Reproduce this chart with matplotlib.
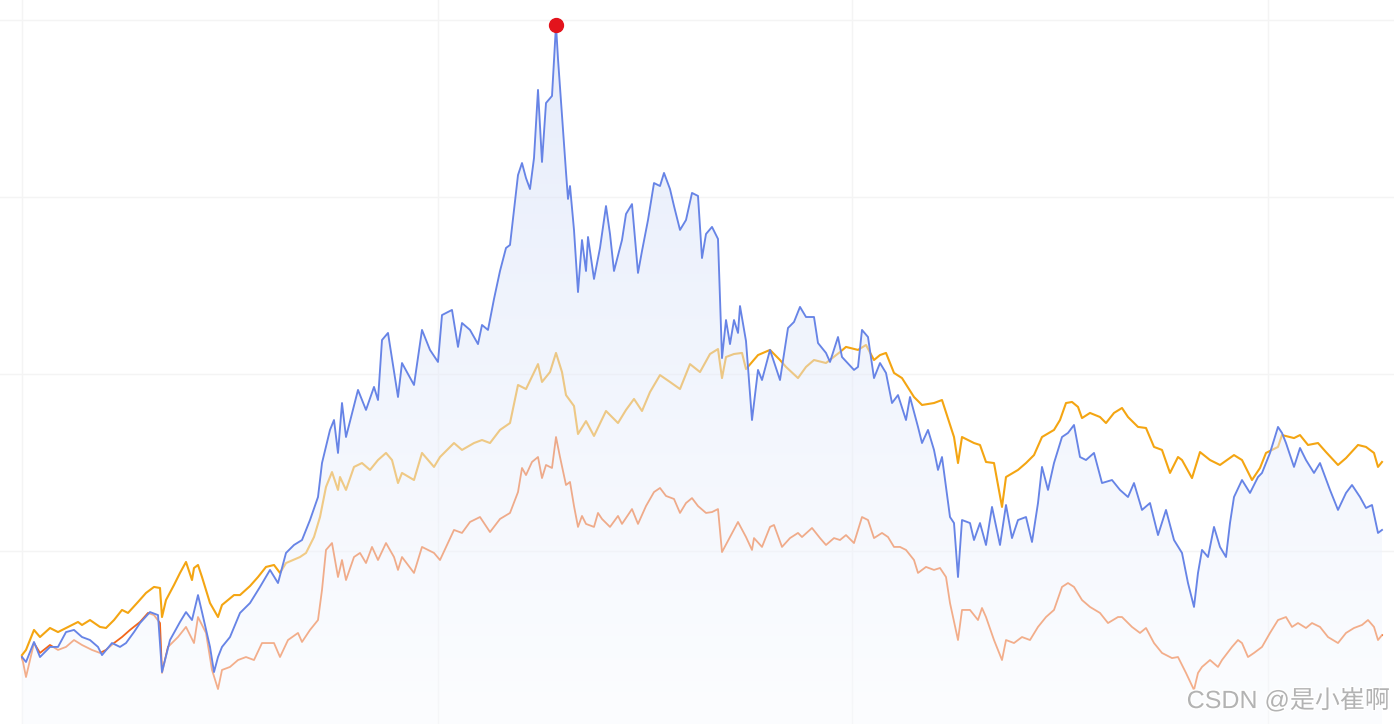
import numpy as np
import matplotlib
matplotlib.use("Agg")
import matplotlib.pyplot as plt
from matplotlib.patches import PathPatch
import matplotlib.patheffects as pe

# ---------------- data (trading-day index, value) ----------------
gold_days = [0, 2, 6, 9, 14, 18, 22, 28, 30, 34, 39, 42, 46, 50, 53, 58, 62, 66, 69, 70, 72, 76, 79, 82, 85, 86, 88, 90, 94, 98,
             100, 106, 109, 114, 118, 122, 126, 129, 132, 139, 142, 146, 149, 152, 155, 158, 159, 162, 166, 170, 174, 178, 182,
             185, 188, 190, 196, 200, 206, 209, 216, 220, 226, 230, 234, 239, 244, 248, 252, 258, 260, 264, 267, 270, 272, 276,
             278, 282, 286, 292, 298, 302, 306, 310, 314, 319, 324, 329, 334, 339, 344, 348, 350, 352, 356, 360, 362, 368, 374,
             379, 382, 388, 392, 396, 402, 409, 412, 418, 422, 426, 429, 432, 436, 440, 446, 450, 456, 460, 466, 468, 470, 476,
             479, 482, 486, 490, 492, 498, 502, 506, 510, 516, 519, 522, 525, 528, 530, 534, 539, 542, 546, 550, 553, 558, 562,
             566, 570, 574, 578, 580, 585, 589, 594, 599, 606, 610, 615, 619, 622, 628, 630, 636, 639, 643, 648, 652, 658, 662,
             668, 672, 676, 678, 680]
gold_vals = [41.2, 44.1, 55.4, 51.4, 56.5, 54.2, 56.5, 59.9, 58.2, 61.0, 57.1, 56.5, 61.0, 66.7, 65.0, 71.2, 76.3, 79.7, 79.1,
             62.7, 72.3, 80.8, 87.6, 93.8, 83.6, 90.4, 92.1, 85.3, 70.6, 62.7, 69.5, 75.1, 75.1, 80.2, 85.3, 91.0, 92.1, 87.6,
             93.2, 96.6, 98.9, 107.9, 119.2, 136.2, 144.6, 134.5, 141.8, 134.5, 147.5, 149.7, 145.8, 151.4, 155.4, 151.4, 138.4,
             144.1, 140.1, 155.4, 147.5, 153.1, 161.0, 157.1, 161.0, 162.7, 161.0, 168.4, 172.3, 193.8, 191.5, 205.6, 195.5,
             201.1, 211.9, 201.1, 188.1, 181.9, 166.1, 173.4, 165.0, 179.1, 172.3, 179.7, 185.9, 179.1, 189.8, 199.4, 195.5,
             191.5, 205.6, 201.1, 211.3, 214.1, 197.7, 209.6, 211.3, 211.9, 202.8, 210.7, 213.6, 207.9, 204.0, 197.7, 204.0,
             207.9, 206.2, 212.4, 215.3, 213.6, 216.4, 207.9, 210.7, 211.9, 200.6, 197.7, 187.0, 182.5, 183.6, 185.3, 164.4,
             149.7, 164.4, 161.0, 159.9, 150.3, 149.7, 124.9, 141.8, 145.8, 149.7, 154.2, 164.4, 168.4, 174.0, 183.6, 184.2,
             181.4, 175.1, 178.0, 175.7, 172.3, 178.0, 180.8, 175.7, 170.1, 169.5, 158.8, 157.1, 144.1, 153.1, 151.4, 141.2,
             155.9, 151.4, 148.6, 154.2, 151.4, 140.1, 146.9, 155.4, 158.8, 165.5, 163.8, 165.5, 159.9, 161.0, 155.9, 148.6,
             152.5, 159.9, 158.8, 155.4, 147.5, 150.3]

blue_days = [0, 2, 6, 9, 14, 18, 22, 26, 30, 34, 38, 40, 45, 49, 52, 56, 59, 64, 68, 70, 74, 79, 82, 85, 88, 90, 94, 96, 98,
             100, 104, 109, 114, 119, 124, 128, 132, 136, 140, 144, 148, 150, 154, 156, 158, 160, 162, 168, 172, 176, 178, 180,
             183, 188, 190, 196, 200, 204, 208, 210, 215, 218, 220, 224, 228, 230, 233, 236, 239, 242, 244, 248, 250, 252, 254,
             256, 258, 260, 262, 265, 267, 268, 270, 272, 273, 274, 276, 278, 280, 282, 283, 286, 289, 292, 294, 296, 300, 302,
             305, 308, 310, 313, 316, 319, 321, 324, 326, 329, 332, 335, 338, 340, 342, 345, 348, 350, 352, 354, 356, 358, 359,
             362, 365, 368, 370, 374, 379, 383, 386, 389, 392, 396, 398, 402, 404, 408, 410, 416, 418, 420, 423, 426, 429, 432,
             435, 438, 442, 444, 448, 450, 453, 456, 458, 460, 464, 466, 468, 470, 474, 476, 479, 482, 485, 489, 492, 495, 498,
             502, 505, 508, 510, 513, 516, 520, 523, 526, 529, 532, 536, 540, 545, 549, 553, 556, 560, 564, 568, 572, 576, 580,
             583, 586, 588, 590, 593, 596, 599, 602, 604, 606, 610, 614, 618, 620, 624, 628, 630, 632, 636, 639, 642, 646, 649,
             654, 658, 662, 665, 669, 672, 675, 678, 680]
blue_vals = [40.1, 37.3, 48.6, 40.1, 45.8, 45.8, 54.2, 55.4, 51.4, 49.7, 45.8, 41.2, 48.0, 45.8, 48.0, 54.2, 59.3, 65.5, 63.8,
             31.6, 49.7, 59.9, 65.5, 61.0, 75.1, 65.5, 45.8, 31.6, 40.1, 45.8, 51.4, 65.0, 70.6, 79.7, 89.3, 81.9, 98.9, 103.4,
             106.2, 117.5, 130.5, 149.7, 168.4, 174.0, 155.4, 183.6, 164.4, 191.0, 179.7, 192.7, 185.3, 219.2, 223.2, 187.0,
             206.2, 193.8, 224.9, 213.6, 206.8, 233.3, 236.2, 215.3, 228.8, 224.9, 216.9, 227.7, 224.9, 242.4, 258.2, 271.2,
             272.9, 312.4, 319.2, 310.7, 304.5, 322.0, 360.5, 319.8, 353.1, 357.1, 397.2, 378.0, 345.8, 314.1, 298.9, 306.2,
             281.4, 246.3, 275.7, 258.2, 277.4, 253.7, 271.2, 294.9, 279.1, 258.2, 275.7, 290.4, 296.0, 257.1, 269.5, 287.0,
             307.9, 306.2, 313.6, 304.5, 294.9, 281.4, 287.0, 302.3, 300.6, 265.5, 279.1, 283.1, 276.3, 209.0, 230.5, 216.9,
             230.5, 223.2, 238.4, 218.6, 174.0, 202.3, 196.6, 213.6, 196.6, 226.0, 229.4, 237.9, 232.2, 232.2, 217.5, 211.9,
             206.8, 220.9, 209.6, 202.3, 204.0, 224.9, 220.9, 197.7, 206.2, 200.6, 183.6, 188.1, 174.0, 187.0, 170.1, 161.0,
             168.4, 157.1, 145.8, 153.1, 119.2, 115.8, 85.3, 117.5, 115.8, 106.2, 115.8, 103.4, 124.9, 103.4, 126.0, 107.3,
             117.5, 119.2, 105.1, 127.1, 147.5, 134.5, 149.7, 164.4, 166.7, 171.2, 153.1, 151.4, 155.4, 138.4, 140.1, 134.5,
             130.5, 138.4, 123.2, 127.1, 109.0, 123.2, 106.2, 98.9, 81.9, 68.4, 87.6, 100.6, 96.6, 113.6, 102.3, 96.6, 115.8,
             130.5, 140.1, 132.8, 141.8, 144.1, 155.4, 170.1, 166.7, 161.0, 147.5, 158.2, 151.4, 144.1, 149.7, 134.5, 123.2,
             132.8, 137.3, 130.5, 124.3, 126.0, 110.2, 111.9]

salmon_days = [0, 2, 6, 9, 14, 18, 22, 26, 30, 35, 39, 42, 46, 50, 54, 59, 63, 66, 69, 70, 73, 78, 82, 86, 88, 92, 95, 98, 100,
               104, 108, 112, 116, 120, 126, 129, 133, 138, 140, 144, 148, 150, 152, 155, 158, 160, 162, 166, 169, 172, 175,
               178, 182, 186, 188, 190, 196, 200, 206, 209, 216, 220, 224, 229, 234, 239, 244, 248, 250, 252, 255, 258, 260,
               262, 265, 267, 269, 272, 274, 276, 278, 280, 282, 286, 288, 290, 294, 298, 300, 305, 308, 312, 316, 319, 322,
               326, 329, 332, 335, 338, 342, 345, 348, 350, 354, 358, 362, 365, 366, 370, 374, 376, 380, 384, 388, 390, 395,
               399, 402, 406, 409, 412, 416, 420, 423, 426, 430, 433, 436, 439, 442, 446, 448, 452, 456, 459, 462, 464, 468,
               470, 474, 478, 480, 482, 486, 490, 492, 496, 500, 504, 508, 512, 516, 520, 523, 526, 530, 534, 539, 543, 548,
               550, 555, 559, 562, 566, 570, 575, 578, 582, 586, 588, 590, 594, 598, 600, 605, 608, 610, 613, 616, 620, 624,
               628, 632, 635, 638, 642, 645, 649, 653, 658, 662, 666, 670, 673, 676, 678, 680]
salmon_vals = [40.1, 28.8, 48.0, 42.4, 46.9, 44.1, 45.8, 49.7, 46.9, 44.1, 42.4, 44.1, 48.0, 51.4, 55.4, 59.9, 65.0, 63.8,
               59.3, 31.1, 45.8, 51.4, 57.1, 48.0, 62.7, 53.7, 32.8, 22.0, 32.8, 34.5, 38.4, 40.1, 38.4, 48.0, 48.0, 40.1,
               49.7, 53.7, 48.6, 55.4, 61.0, 78.0, 100.6, 104.5, 85.3, 94.9, 83.6, 96.6, 98.9, 93.2, 102.3, 94.9, 104.5, 96.6,
               89.3, 96.6, 87.6, 102.3, 98.9, 94.9, 111.9, 110.2, 116.4, 119.2, 110.7, 118.1, 121.5, 133.3, 146.9, 142.9,
               150.3, 153.1, 141.2, 148.6, 146.9, 164.4, 153.1, 137.3, 139.0, 125.4, 113.6, 119.8, 115.3, 113.6, 121.5, 118.1,
               113.6, 119.8, 115.3, 123.7, 115.3, 125.4, 133.3, 135.6, 131.1, 129.4, 121.5, 127.1, 129.9, 125.4, 121.5, 122.0,
               123.7, 99.4, 107.9, 116.4, 107.9, 100.6, 107.3, 102.3, 113.6, 114.7, 102.3, 107.3, 110.2, 107.9, 113.0, 107.3,
               103.4, 107.3, 106.2, 109.0, 104.5, 119.2, 117.5, 107.3, 110.2, 107.9, 102.3, 102.3, 100.6, 94.9, 87.6, 91.0,
               89.3, 90.4, 85.3, 70.6, 49.7, 66.7, 66.7, 61.0, 67.8, 62.7, 49.7, 38.4, 49.7, 48.0, 51.4, 49.7, 57.1, 62.7,
               66.7, 79.7, 81.9, 79.7, 72.3, 68.4, 65.0, 59.3, 62.7, 62.7, 57.1, 53.7, 56.5, 48.0, 42.4, 39.5, 40.1, 31.1,
               21.5, 31.1, 34.5, 38.4, 34.5, 38.4, 45.8, 49.7, 48.0, 40.1, 42.4, 45.8, 53.7, 61.0, 62.7, 57.1, 59.3, 56.5,
               59.3, 57.1, 51.4, 48.0, 53.7, 56.5, 58.2, 61.0, 57.1, 49.7, 52.5]

grid_x = [0, 208, 415, 623]
grid_y = [100, 200, 300, 400]
watermark = "CSDN @是小崔啊"

# ---------------- figure ----------------
fig = plt.figure(figsize=(13.94, 7.24), dpi=100)
ax = fig.add_axes([0, 0, 1, 1])
XLIM = (-11, 686)
YLIM = (2.26, 411.3)

for s in ax.spines.values():
    s.set_visible(False)
ax.set_xticks(grid_x)
ax.set_yticks(grid_y)
ax.tick_params(length=0, labelbottom=False, labelleft=False)
ax.grid(True, color="#f4f4f4", lw=1.0, zorder=0)
ax.set_axisbelow(True)

# lines underneath the blue area
ax.plot(gold_days, gold_vals, color="#f4a512", lw=1.5, zorder=2, solid_joinstyle="round")
ax.plot(salmon_days, salmon_vals, color="#f2661a", lw=1.3, zorder=2, solid_joinstyle="round")

# gradient area under the blue series
peak = max(blue_vals)
t = np.linspace(0, 1, 256)[:, None, None]
top = np.array([208, 220, 247]) / 255.0
bot = np.array([249, 251, 255]) / 255.0
grad = np.zeros((256, 1, 4))
grad[..., :3] = bot + (top - bot) * t
grad[..., 3] = 0.5
poly = ax.fill_between(blue_days, blue_vals, 0, color="none", lw=0)
patch = PathPatch(poly.get_paths()[0], transform=ax.transData, fc="none", ec="none")
ax.add_patch(patch)
im = ax.imshow(grad, extent=(blue_days[0], blue_days[-1], 0, peak), origin="lower",
               aspect="auto", zorder=3, interpolation="bilinear")
im.set_clip_path(patch)

ax.plot(blue_days, blue_vals, color="#6784e6", lw=1.35, zorder=4, solid_joinstyle="round")
i = int(np.argmax(blue_vals))
ax.plot(blue_days[i], blue_vals[i], "o", color="#e3131c", ms=10, mec="#e3131c", zorder=5)

ax.set_xlim(*XLIM)
ax.set_ylim(*YLIM)

fig.text(0.997, 0.022, watermark, ha="right", va="baseline", fontsize=18, color="#b3b3b3",
         family=["Liberation Sans", "Noto Sans CJK SC"],
         path_effects=[pe.withStroke(linewidth=2, foreground="white")], zorder=10)

fig.savefig("out.png", dpi=100)
